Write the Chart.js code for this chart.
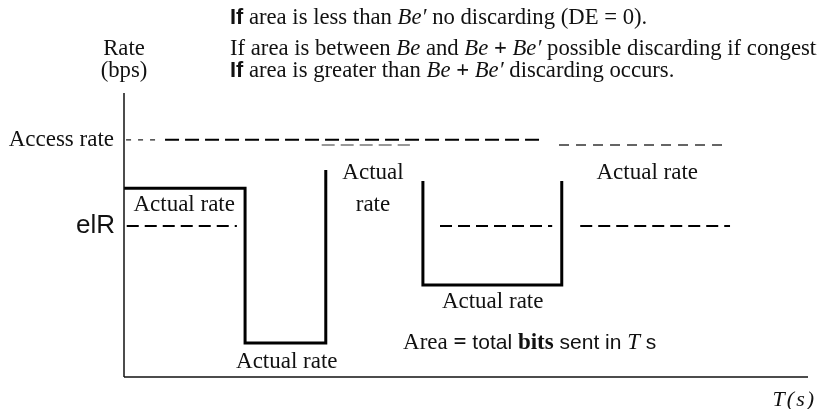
<!DOCTYPE html>
<html>
<head>
<meta charset="utf-8">
<script src="https://cdn.jsdelivr.net/npm/chart.js@4/dist/chart.umd.min.js"></script>
<style>
html,body{margin:0;padding:0;background:#fff;}
#wrap{width:817px;height:409px;position:relative;}
</style>
</head>
<body>
<div id="wrap"><canvas id="c" width="817" height="409"></canvas></div>
<script>
// ---- data (time in arbitrary units 0..100, rate in arbitrary units 0..100) ----
const actualRate1X = [0, 17.7, 17.7, 29.5, 29.5];
const actualRate1Y = [66.5, 66.5, 12.0, 12.0, 72.9];
const actualRate2X = [43.7, 43.7, 64.0, 64.0];
const actualRate2Y = [69.0, 32.4, 32.4, 69.0];
const accessRateLevel = 83.5;
const accessRateLevel2 = 81.7;
const eirLevel = 53.2;
const accessSpansA = [[0.3, 5.5], [6.0, 61.0]];
const accessSpansB = [[63.6, 87.6]];
const accessSpansGray = [[28.9, 41.8]];
const eirSpans = [[0.4, 16.5], [46.2, 62.6], [66.7, 88.6]];
const axisX = [0, 100];
const axisY = [0, 100];
const yLabels = ["Access rate", "elR"];

const pts = (xs, ys) => xs.map((x, i) => ({x, y: ys[i]}));
const span = (s, y) => [{x: s[0], y}, {x: s[1], y}];

const datasets = [];
// axes
datasets.push({data: [{x: axisX[0], y: 0}, {x: axisX[1], y: 0}], borderColor: '#111', borderWidth: 1.5});
datasets.push({data: [{x: 0, y: axisY[0]}, {x: 0, y: axisY[1]}], borderColor: '#111', borderWidth: 1.5});
// actual rate lines
datasets.push({data: pts(actualRate1X, actualRate1Y), borderColor: '#000', borderWidth: 3});
datasets.push({data: pts(actualRate2X, actualRate2Y), borderColor: '#000', borderWidth: 3});
// access rate dashed
datasets.push({data: span(accessSpansA[0], accessRateLevel), borderColor: '#222', borderWidth: 1.2, borderDash: [5, 7]});
datasets.push({data: span(accessSpansA[1], accessRateLevel), borderColor: '#000', borderWidth: 2, borderDash: [14, 6]});
datasets.push({data: span(accessSpansGray[0], accessRateLevel2), borderColor: '#777', borderWidth: 1.5, borderDash: [13, 6]});
datasets.push({data: span(accessSpansB[0], accessRateLevel2), borderColor: '#333', borderWidth: 1.5, borderDash: [10, 7]});
// eIR dashed
eirSpans.forEach(s => datasets.push({data: span(s, eirLevel), borderColor: '#000', borderWidth: 2, borderDash: [12, 6]}));
datasets.forEach(d => { d.showLine = true; d.pointRadius = 0; d.fill = false; d.clip = false; d.tension = 0; });

const serif = '"Liberation Serif", "Times New Roman", serif';
const sans = '"Liberation Sans", Arial, sans-serif';
const FS = 23;
const HS = 22.7;

function rich(ctx, segs, x, y, align) {
  let total = 0;
  segs.forEach(s => { ctx.font = s.f; total += ctx.measureText(s.t).width; });
  let cx = align === 'center' ? x - total / 2 : (align === 'right' ? x - total : x);
  ctx.textAlign = 'left';
  segs.forEach(s => { ctx.font = s.f; ctx.fillText(s.t, cx, y); cx += ctx.measureText(s.t).width; });
}

const R = `${FS}px ${serif}`, I = `italic ${FS}px ${serif}`, B = `bold ${FS}px ${serif}`;
const S = `${FS - 2}px ${sans}`;
const HR = `${HS}px ${serif}`, HI = `italic ${HS}px ${serif}`, HB = `bold ${HS}px ${serif}`, HSB = `bold ${HS - 1}px ${sans}`;

const labelsPlugin = {
  id: 'labels',
  afterDraw(chart) {
    const ctx = chart.ctx, xs = chart.scales.x, ys = chart.scales.y;
    const X = v => xs.getPixelForValue(v), Y = v => ys.getPixelForValue(v);
    ctx.save();
    ctx.fillStyle = '#111';
    ctx.textBaseline = 'middle';
    // header
    rich(ctx, [{f: HSB, t: 'If'}, {f: HR, t: ' area is less than '}, {f: HI, t: 'Be′'}, {f: HR, t: ' no discarding (DE = 0).'}], 230, 18, 'left');
    rich(ctx, [{f: HR, t: 'If area is between '}, {f: HI, t: 'Be'}, {f: HR, t: ' and '}, {f: HI, t: 'Be'}, {f: HB, t: ' + '}, {f: HI, t: 'Be′'}, {f: HR, t: ' possible discarding if congestion.'}], 230, 49, 'left');
    rich(ctx, [{f: HSB, t: 'If'}, {f: HR, t: ' area is greater than '}, {f: HI, t: 'Be'}, {f: HB, t: ' + '}, {f: HI, t: 'Be′'}, {f: HR, t: ' discarding occurs.'}], 230, 71, 'left');
    rich(ctx, [{f: HR, t: 'Rate'}], X(0), 49, 'center');
    rich(ctx, [{f: HR, t: '(bps)'}], X(0), 71, 'center');
    // y labels
    rich(ctx, [{f: R, t: yLabels[0]}], X(0) - 10, Y(accessRateLevel), 'right');
    rich(ctx, [{f: `26px ${sans}`, t: yLabels[1]}], X(0) - 9, Y(eirLevel), 'right');
    // in-chart labels
    rich(ctx, [{f: R, t: 'Actual rate'}], X(8.8), Y(60.6), 'center');
    rich(ctx, [{f: R, t: 'Actual'}], X(36.4), Y(71.8), 'center');
    rich(ctx, [{f: R, t: 'rate'}], X(36.4), Y(60.6), 'center');
    rich(ctx, [{f: R, t: 'Actual rate'}], X(76.5), Y(71.8), 'center');
    rich(ctx, [{f: R, t: 'Actual rate'}], X(53.9), Y(26.4), 'center');
    rich(ctx, [{f: R, t: 'Actual rate'}], X(23.8), Y(5.3), 'center');
    rich(ctx, [{f: R, t: 'Area'}, {f: B, t: ' = '}, {f: S, t: 'total '}, {f: B, t: 'bits'}, {f: S, t: ' sent in '}, {f: I, t: 'T'}, {f: S, t: ' s'}], X(40.8), Y(12.0), 'left');
    ctx.font = `italic 22px ${serif}`;
    ctx.letterSpacing = '2px';
    ctx.textAlign = 'center';
    ctx.fillText('T(s)', X(98.0), Y(0) + 23);
    ctx.restore();
  }
};

new Chart(document.getElementById('c'), {
  type: 'scatter',
  data: {datasets},
  options: {
    responsive: false,
    animation: false,
    events: [],
    layout: {padding: {left: 124, right: 9, top: 93, bottom: 32}},
    plugins: {legend: {display: false}, tooltip: {enabled: false}},
    scales: {
      x: {type: 'linear', min: 0, max: 100, display: false},
      y: {type: 'linear', min: 0, max: 100, display: false}
    }
  },
  plugins: [labelsPlugin]
});
</script>
</body>
</html>
